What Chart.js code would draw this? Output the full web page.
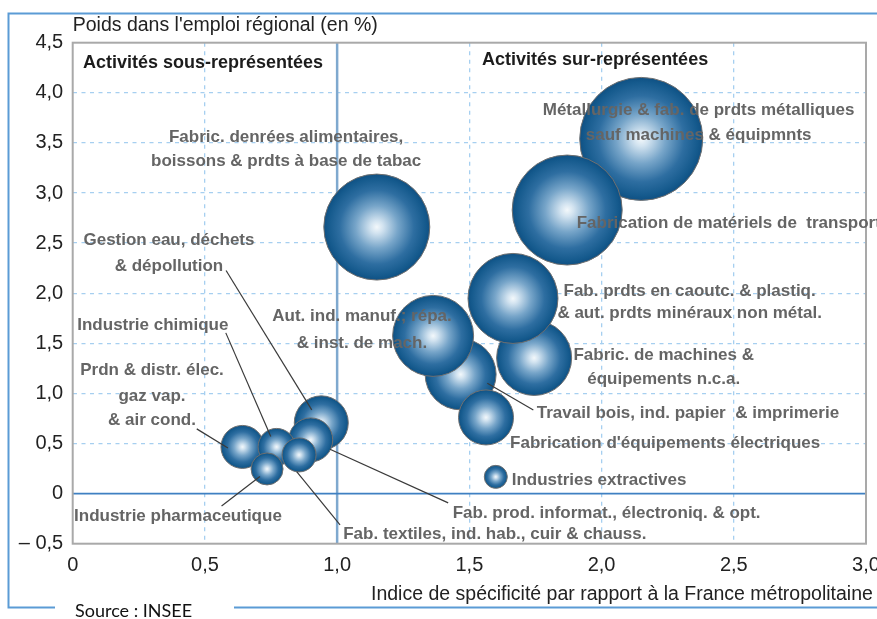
<!DOCTYPE html>
<html lang="fr">
<head>
<meta charset="utf-8">
<title>Spécificité des activités industrielles</title>
<script src="https://cdn.jsdelivr.net/npm/chart.js@4/dist/chart.umd.min.js"></script>
<style>
  html, body { margin: 0; padding: 0; background: #ffffff; }
  #wrap { width: 877px; height: 619px; position: relative; }
  canvas { display: block; }
</style>
</head>
<body>
<div id="wrap"><canvas id="graphique" width="877" height="619"></canvas></div>
<script>
// Secteurs d'activité (ordre de tracé : les derniers passent au premier plan)
const secteurs = [
  'Métallurgie & fab. de prdts métalliques sauf machines & équipmnts',
  'Fabrication de matériels de transport',
  'Fabric. denrées alimentaires, boissons & prdts à base de tabac',
  'Fabric. de machines & équipements n.c.a.',
  'Fab. prdts en caoutc. & plastiq. & aut. prdts minéraux non métal.',
  'Travail bois, ind. papier & imprimerie',
  'Aut. ind. manuf.; répa. & inst. de mach.',
  "Fabrication d'équipements électriques",
  'Industries extractives',
  'Gestion eau, déchets & dépollution',
  'Fab. prod. informat., électroniq. & opt.',
  'Prdn & distr. élec. gaz vap. & air cond.',
  'Industrie chimique',
  'Fab. textiles, ind. hab., cuir & chauss.',
  'Industrie pharmaceutique'
];
// Indice de spécificité par rapport à la France métropolitaine
const indiceSpecificite = [2.15, 1.87, 1.15, 1.745, 1.665, 1.467, 1.363, 1.563, 1.60, 0.94, 0.90, 0.642, 0.771, 0.856, 0.735];
// Poids dans l'emploi régional (en %)
const poidsEmploi = [3.54, 2.83, 2.66, 1.354, 1.948, 1.19, 1.574, 0.76, 0.167, 0.706, 0.536, 0.466, 0.466, 0.386, 0.246];
// Taille des bulles (effectif relatif du secteur)
const tailleBulle = [61.5, 55, 53, 37.5, 45, 35.5, 40.5, 27.5, 11.5, 27, 22, 21.5, 18.5, 17, 16];

// Graduations des axes
const ticksX = [0, 0.5, 1.0, 1.5, 2.0, 2.5, 3.0];
const ticksY = [-0.5, 0, 0.5, 1.0, 1.5, 2.0, 2.5, 3.0, 3.5, 4.0, 4.5];

const titreY = "Poids dans l'emploi régional (en %)";
const titreX = 'Indice de spécificité par rapport à la France métropolitaine';
const source = 'Source : INSEE';

// Étiquettes des bulles (coordonnées dans le repère du graphique)
const etiquettes = [
  { lignes: ['Activités sous-représentées'], x: 0.039, y: [4.30], align: 'left', titre: true },
  { lignes: ['Activités sur-représentées'], x: 1.548, y: [4.328], align: 'left', titre: true },
  { lignes: ['Métallurgie & fab. de prdts métalliques', 'sauf machines & équipmnts'], x: 2.367, y: [3.822, 3.58], align: 'center' },
  { lignes: ['Fabric. denrées alimentaires,', 'boissons & prdts à base de tabac'], x: 0.807, y: [3.557, 3.32], align: 'center' },
  { lignes: ['Fabrication de matériels de  transport'], x: 1.906, y: [2.699], align: 'left' },
  { lignes: ['Gestion eau, déchets', '& dépollution'], x: 0.364, y: [2.525, 2.265], align: 'center' },
  { lignes: ['Aut. ind. manuf.; répa.', '& inst. de mach.'], x: 1.094, y: [1.766, 1.501], align: 'center' },
  { lignes: ['Fab. prdts en caoutc. & plastiq.', '& aut. prdts minéraux non métal.'], x: 2.333, y: [2.016, 1.80], align: 'center' },
  { lignes: ['Industrie chimique'], x: 0.303, y: [1.677], align: 'center' },
  { lignes: ['Fabric. de machines &', 'équipements n.c.a.'], x: 2.235, y: [1.384, 1.142], align: 'center' },
  { lignes: ['Prdn & distr. élec.', 'gaz vap.', '& air cond.'], x: 0.30, y: [1.228, 0.975, 0.736], align: 'center' },
  { lignes: ['Travail bois, ind. papier  & imprimerie'], x: 1.755, y: [0.802], align: 'left' },
  { lignes: ["Fabrication d'équipements électriques"], x: 1.654, y: [0.503], align: 'left' },
  { lignes: ['Industries extractives'], x: 1.66, y: [0.137], align: 'left' },
  { lignes: ['Fab. prod. informat., électroniq. & opt.'], x: 1.437, y: [-0.196], align: 'left' },
  { lignes: ['Industrie pharmaceutique'], x: 0.005, y: [-0.23], align: 'left' },
  { lignes: ['Fab. textiles, ind. hab., cuir & chauss.'], x: 1.023, y: [-0.402], align: 'left' }
];

// Traits de rappel entre étiquette et bulle
const rappels = [
  [0.580, 2.226, 0.904, 0.835],
  [0.579, 1.604, 0.749, 0.569],
  [0.469, 0.646, 0.587, 0.456],
  [0.563, -0.123, 0.708, 0.170],
  [1.011, -0.312, 0.847, 0.220],
  [0.973, 0.443, 1.420, -0.093],
  [1.568, 1.102, 1.742, 0.835]
];

const police = '"Liberation Sans", Arial, Helvetica, sans-serif';
const virgule = v => {
  if (Math.abs(v) < 1e-9) return '0';
  if (v < 0) return '– ' + Math.abs(v).toFixed(1).replace('.', ',');
  return v.toFixed(1).replace('.', ',');
};
const proche = (a, b) => Math.abs(a - b) < 1e-6;

// Dégradé radial des bulles (reflet clair au centre)
function degradeBulle(ctx) {
  const chart = ctx.chart;
  if (!chart.chartArea || ctx.type !== 'data') return '#2f6fa2';
  const px = chart.scales.x.getPixelForValue(ctx.raw.x);
  const py = chart.scales.y.getPixelForValue(ctx.raw.y);
  const r = ctx.raw.r;
  const g = chart.ctx.createRadialGradient(px, py, 0, px, py, r);
  g.addColorStop(0, '#f3f8fb');
  g.addColorStop(0.12, '#d2e3f0');
  g.addColorStop(0.4, '#77a5c9');
  g.addColorStop(0.7, '#2e6ea1');
  g.addColorStop(0.92, '#155a8d');
  g.addColorStop(1, '#0f5083');
  return g;
}

const decor = {
  id: 'decor',
  beforeDatasetsDraw(chart) {
    const { ctx, chartArea: a, scales: { x, y } } = chart;
    ctx.save();
    // ligne de référence indice = 1
    ctx.strokeStyle = '#7fa9cf';
    ctx.lineWidth = 2.5;
    ctx.beginPath();
    const x1 = x.getPixelForValue(1);
    ctx.moveTo(x1, a.top); ctx.lineTo(x1, a.bottom); ctx.stroke();
    // ligne zéro
    ctx.strokeStyle = '#3f80c2';
    ctx.lineWidth = 1.6;
    ctx.beginPath();
    const y0 = y.getPixelForValue(0);
    ctx.moveTo(a.left, y0); ctx.lineTo(a.right, y0); ctx.stroke();
    // cadre de la zone de tracé
    ctx.strokeStyle = '#a9a9a9';
    ctx.lineWidth = 2;
    ctx.strokeRect(a.left, a.top, a.right - a.left, a.bottom - a.top);
    ctx.restore();
  },
  afterDatasetsDraw(chart) {
    const { ctx, scales: { x, y } } = chart;
    ctx.save();
    // traits de rappel
    ctx.strokeStyle = '#3a3a3a';
    ctx.lineWidth = 1.2;
    rappels.forEach(([xa, ya, xb, yb]) => {
      ctx.beginPath();
      ctx.moveTo(x.getPixelForValue(xa), y.getPixelForValue(ya));
      ctx.lineTo(x.getPixelForValue(xb), y.getPixelForValue(yb));
      ctx.stroke();
    });
    // étiquettes
    ctx.textBaseline = 'middle';
    etiquettes.forEach(e => {
      ctx.font = e.titre ? 'bold 18px ' + police : 'bold 17px ' + police;
      ctx.fillStyle = e.titre ? '#1c1c1c' : '#656565';
      ctx.textAlign = e.align;
      e.lignes.forEach((t, i) => ctx.fillText(t, x.getPixelForValue(e.x), y.getPixelForValue(e.y[i])));
    });
    ctx.restore();
  },
  afterDraw(chart) {
    const { ctx, chartArea: a } = chart;
    ctx.save();
    // titres des axes
    ctx.fillStyle = '#222';
    ctx.font = '19.5px ' + police;
    ctx.textAlign = 'left';
    ctx.textBaseline = 'middle';
    ctx.fillText(titreY, a.left, 26);
    ctx.fillText(titreX, 371, 595);
    // encadré général
    ctx.strokeStyle = '#5b9bd5';
    ctx.lineWidth = 2;
    ctx.beginPath();
    ctx.moveTo(877, 13.5); ctx.lineTo(8.5, 13.5); ctx.lineTo(8.5, 607.5); ctx.lineTo(55, 607.5);
    ctx.moveTo(234, 607.5); ctx.lineTo(877, 607.5);
    ctx.stroke();
    ctx.fillStyle = '#111';
    ctx.font = '18px Lato, "Open Sans", sans-serif';
    ctx.fillText(source, 75, 611);
    ctx.restore();
  }
};

const grille = (valeurs, ref) => ({
  drawTicks: false,
  lineWidth: 1.3,
  color: c => {
    const v = c.tick ? c.tick.value : NaN;
    if (proche(v, valeurs[0]) || proche(v, valeurs[valeurs.length - 1]) || proche(v, ref)) return 'rgba(0,0,0,0)';
    return '#a6cff0';
  }
});

new Chart(document.getElementById('graphique'), {
  type: 'bubble',
  data: {
    datasets: [{
      label: 'Secteurs',
      data: secteurs.map((s, i) => ({ x: indiceSpecificite[i], y: poidsEmploi[i], r: tailleBulle[i] })),
      backgroundColor: degradeBulle,
      borderColor: '#707070',
      borderWidth: 1,
      hoverBorderWidth: 1,
      clip: false
    }]
  },
  options: {
    responsive: false,
    devicePixelRatio: 1,
    animation: false,
    events: [],
    layout: { autoPadding: false, padding: { top: 42.7, right: 11, left: 0, bottom: 0 } },
    plugins: { legend: { display: false }, tooltip: { enabled: false } },
    scales: {
      x: {
        type: 'linear', min: 0, max: 3,
        afterBuildTicks: s => { s.ticks = ticksX.map(v => ({ value: v })); },
        afterFit: s => { s.height = 619 - 543.7; s.paddingLeft = 0; s.paddingRight = 0; },
        grid: grille(ticksX, 1),
        border: { display: false, dash: [4, 4.5] },
        ticks: { padding: 10, color: '#222', font: { family: police, size: 20 }, maxRotation: 0, autoSkip: false, callback: v => virgule(v) }
      },
      y: {
        type: 'linear', min: -0.5, max: 4.5,
        afterBuildTicks: s => { s.ticks = ticksY.map(v => ({ value: v })); },
        afterFit: s => { s.width = 72.7; s.paddingTop = 0; s.paddingBottom = 0; },
        grid: grille(ticksY, 0),
        border: { display: false, dash: [4, 4.5] },
        ticks: { padding: 9.5, color: '#222', font: { family: police, size: 20 }, autoSkip: false, callback: v => virgule(v) }
      }
    }
  },
  plugins: [decor]
});
</script>
</body>
</html>
